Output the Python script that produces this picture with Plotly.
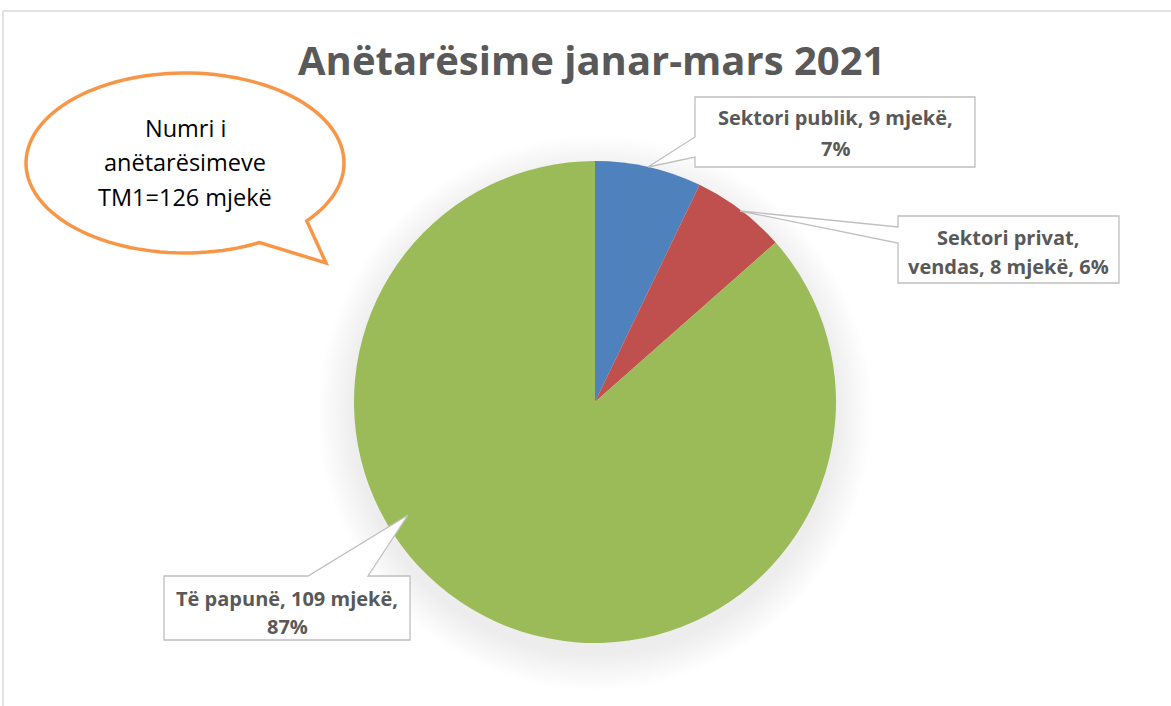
import numpy as np
import plotly.graph_objects as go

# ---- data ----
labels = ["Sektori publik", "Sektori privat, vendas", "Të papunë"]
values = [9, 8, 109]
colors = ["#4F81BD", "#C0504D", "#9BBB59"]
title_text = "Anëtarësime janar-mars 2021"
bubble_lines = ["Numri i", "anëtarësimeve", "TM1=126 mjekë"]

W, H = 1171, 706
def px(x):
    return x / W
def py(y):
    return 1 - y / H

total = sum(values)
pcts = [round(v / total * 100) for v in values]

lab_lines = [
    [f"{labels[0]}, {values[0]} mjekë,", f"{pcts[0]}%"],
    ["Sektori privat,", f"vendas, {values[1]} mjekë, {pcts[1]}%"],
    [f"{labels[2]}, {values[2]} mjekë,", f"{pcts[2]}%"],
]

cx, cy, R = 595, 402, 241

fig = go.Figure()
fig.add_trace(go.Pie(
    labels=labels, values=values, sort=False, direction="clockwise", rotation=0,
    marker=dict(colors=colors, line=dict(width=0)),
    textinfo="none", hoverinfo="label+value+percent", showlegend=False,
    domain=dict(x=[px(cx - R), px(cx + R)], y=[py(cy + R), py(cy - R)]),
))

shapes = []
shapes.append(dict(type="line", xref="paper", yref="paper", x0=px(3), x1=px(1200), y0=py(11), y1=py(11),
                   line=dict(color="#D9D9D9", width=1.5)))
shapes.append(dict(type="line", xref="paper", yref="paper", x0=px(3), x1=px(3), y0=py(11), y1=py(720),
                   line=dict(color="#D9D9D9", width=1.5)))
# soft blurred shadow under pie
scy = cy + 11
for k in range(1, 19):
    r = R + 2 * k
    shapes.append(dict(type="circle", xref="paper", yref="paper", layer="below",
                       x0=px(cx - r), x1=px(cx + r), y0=py(scy + r), y1=py(scy - r),
                       fillcolor="rgba(0,0,0,0.0055)", line=dict(width=0)))

def path_from(pts):
    return "M " + " L ".join(f"{px(x):.5f},{py(y):.5f}" for x, y in pts) + " Z"

box_style = dict(type="path", xref="paper", yref="paper", fillcolor="white",
                 line=dict(color="#BFBFBF", width=1.3))
boxes = [
    [(695, 97), (975, 97), (975, 167), (695, 167), (695, 157), (648, 167), (695, 137)],
    [(898, 216), (1119, 216), (1119, 283), (898, 283), (898, 243), (740, 211), (898, 227)],
    [(164, 576), (308, 576), (408, 515), (368, 576), (410, 576), (410, 640), (164, 640)],
]
for b in boxes:
    shapes.append(dict(path=path_from(b), **box_style))

# speech bubble
ecx, ecy, rx, ry = 185, 163, 159, 90
a0, a1 = np.deg2rad(62), np.deg2rad(400)
ts = np.linspace(a0, a1, 120)
pts = [(ecx + rx * np.cos(t), ecy + ry * np.sin(t)) for t in ts]
pts.append((326, 263))
shapes.append(dict(type="path", xref="paper", yref="paper", path=path_from(pts),
                   fillcolor="white", line=dict(color="#F79646", width=3.5)))

annotations = []
annotations.append(dict(text=f"<b>{title_text}</b>", x=px(591), y=py(60), xref="paper", yref="paper",
                        showarrow=False, xanchor="center", yanchor="middle",
                        font=dict(family="Open Sans", size=40, color="#595959")))
lab_pos = [
    (835, [118, 148]),
    (1008, [237, 266]),
    (287, [598, 626]),
]
for (x, ys), lines in zip(lab_pos, lab_lines):
    for y, t in zip(ys, lines):
        annotations.append(dict(text=f"<b>{t}</b>", x=px(x), y=py(y), xref="paper", yref="paper",
                                showarrow=False, xanchor="center", yanchor="middle",
                                font=dict(family="Open Sans", size=20, color="#595959")))
for y, t in zip([128, 162, 197], bubble_lines):
    annotations.append(dict(text=t, x=px(185), y=py(y), xref="paper", yref="paper",
                            showarrow=False, xanchor="center", yanchor="middle",
                            font=dict(family="Open Sans", size=23.5, color="#000000")))

fig.update_layout(width=W, height=H, margin=dict(l=0, r=0, t=0, b=0),
                  paper_bgcolor="white", plot_bgcolor="white",
                  shapes=shapes, annotations=annotations)
fig.write_html("out.html", config={"displayModeBar": False},
               post_script="document.body.style.margin='0';document.body.style.overflow='hidden';")
